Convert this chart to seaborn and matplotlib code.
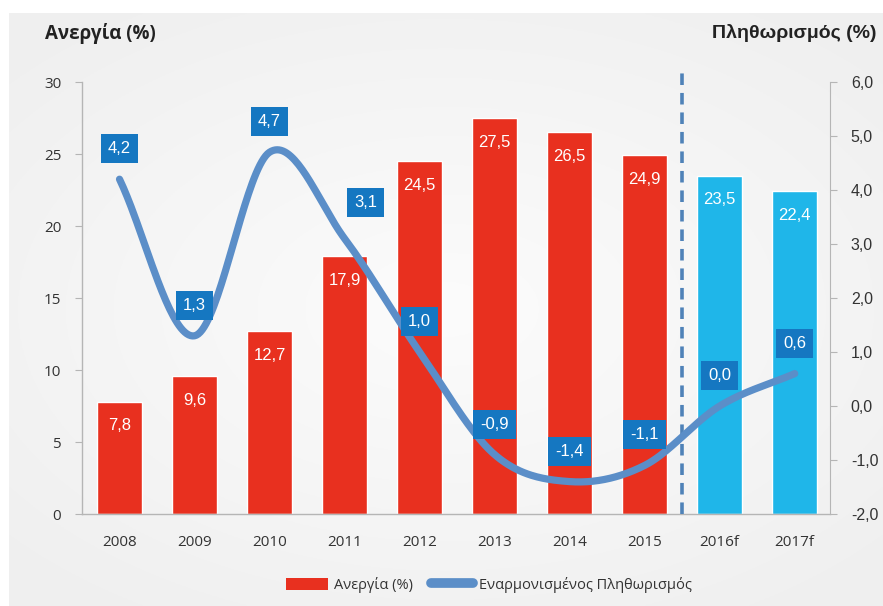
import numpy as np
import pandas as pd
import matplotlib
matplotlib.use("Agg")
import matplotlib.pyplot as plt
from matplotlib.patches import Patch
from matplotlib.lines import Line2D
import seaborn as sns

# ---- data -------------------------------------------------------------
years = ["2008", "2009", "2010", "2011", "2012", "2013", "2014", "2015", "2016f", "2017f"]
unemployment = [7.8, 9.6, 12.7, 17.9, 24.5, 27.5, 26.5, 24.9, 23.5, 22.4]
inflation = [4.2, 1.3, 4.7, 3.1, 1.0, -0.9, -1.4, -1.1, 0.0, 0.6]
forecast = [False] * 8 + [True] * 2

left_ticks = [0, 5, 10, 15, 20, 25, 30]
right_ticks = [-2, -1, 0, 1, 2, 3, 4, 5, 6]

RED = "#e8301f"
CYAN = "#1fb6e9"
LINE = "#5b8ec8"
BOX = "#1577c1"
AXIS = "#b5b5b5"
TEXT = "#333333"
ARIAL = ["Liberation Sans", "DejaVu Sans"]

sns.set_style("white")
plt.rcParams["font.family"] = ["Open Sans", "DejaVu Sans"]

W, H = 883, 606
fig = plt.figure(figsize=(W / 100, H / 100), dpi=100)

# soft grey backdrop with a lighter centre
bg = fig.add_axes([9 / W, 0, 1 - 9 / W, 1 - 13 / H])
gy, gx = np.mgrid[-1:1:300j, -1:1:400j]
r = np.sqrt((gx / 1.0) ** 2 + (gy / 0.9) ** 2)
shade = 0.988 - 0.05 * np.clip(r, 0, 1.4) / 1.4
bg.imshow(np.dstack([shade, shade, shade]), aspect="auto", extent=[0, 1, 0, 1])
bg.set_axis_off()
bg.set_zorder(0)

ax = fig.add_axes([82 / W, 1 - 514 / H, (830 - 82) / W, (514 - 82) / H])
ax.set_zorder(1)
ax.patch.set_visible(False)

df = pd.DataFrame({"year": years, "unemployment": unemployment, "forecast": forecast})
palette = {y: (CYAN if f else RED) for y, f in zip(years, forecast)}
sns.barplot(data=df, x="year", y="unemployment", hue="year", palette=palette,
            legend=False, width=0.6, saturation=1, ax=ax, zorder=2)

ax.set_xlim(-0.5, 9.47)
ax.set_ylim(0, 30)
ax.set_yticks(left_ticks)
ax.set_yticklabels([str(t) for t in left_ticks])
ax.set_xlabel("")
ax.set_ylabel("")

# bar value labels
for i, v in enumerate(unemployment):
    ax.annotate(f"{v:.1f}".replace(".", ","), (i, v), xytext=(0, -17.5),
                textcoords="offset points", ha="center", va="center",
                color="white", fontsize=12, family=ARIAL, zorder=3)

for side in ["top", "right"]:
    ax.spines[side].set_visible(False)
for side in ["left", "bottom"]:
    ax.spines[side].set_color(AXIS)
    ax.spines[side].set_linewidth(1)

ax.tick_params(axis="x", which="major", length=0, pad=15, labelsize=11, labelcolor=TEXT)
ax.set_xticks(np.arange(-0.5, 10, 1.0), minor=True)
ax.tick_params(axis="x", which="minor", length=5, color=AXIS, direction="out")
ax.tick_params(axis="y", length=5, color=AXIS, pad=10, labelsize=11, labelcolor=TEXT)

# divider between actual and forecast years
ax.plot([7.5, 7.5], [0, 31], ls=(0, (3.2, 2.2)), lw=2.6, color="#4f82b8",
        clip_on=False, zorder=4)

# ---- inflation on the secondary axis -----------------------------------
ax2 = ax.twinx()
ax2.set_zorder(2)
ax2.patch.set_visible(False)
ax2.set_ylim(-2, 6)
ax2.set_yticks(right_ticks)
ax2.set_yticklabels([f"{t:.1f}".replace(".", ",") for t in right_ticks], family=ARIAL)
for side in ["top", "left", "bottom"]:
    ax2.spines[side].set_visible(False)
ax2.spines["right"].set_color(AXIS)
ax2.tick_params(axis="y", length=5, color=AXIS, pad=10, labelsize=11.5, labelcolor=TEXT)

# smooth Catmull-Rom path through the yearly values
xi = np.arange(len(inflation), dtype=float)
yi = np.array(inflation, dtype=float)
px = np.concatenate([[2 * xi[0] - xi[1]], xi, [2 * xi[-1] - xi[-2]]])
py = np.concatenate([[2 * yi[0] - yi[1]], yi, [2 * yi[-1] - yi[-2]]])
cx, cy = [], []
t = np.linspace(0, 1, 40)
for k in range(1, len(px) - 2):
    for arr, out in ((px, cx), (py, cy)):
        p0, p1, p2, p3 = arr[k - 1], arr[k], arr[k + 1], arr[k + 2]
        out.extend(0.5 * ((2 * p1) + (-p0 + p2) * t
                          + (2 * p0 - 5 * p1 + 4 * p2 - p3) * t ** 2
                          + (-p0 + 3 * p1 - 3 * p2 + p3) * t ** 3))
curve = pd.DataFrame({"x": cx, "y": cy})
sns.lineplot(data=curve, x="x", y="y", sort=False, color=LINE, lw=5.2,
             solid_capstyle="round", ax=ax2, zorder=3)
ax2.set_xlabel("")
ax2.set_ylabel("")

offsets = {3: (15, 26)}
for i, v in enumerate(inflation):
    dx, dy = offsets.get(i, (0, 22))
    ax2.annotate(f"{v:.1f}".replace(".", ","), (i, v), xytext=(dx, dy),
                 textcoords="offset points", ha="center", va="center",
                 color="white", fontsize=12, family=ARIAL,
                 bbox=dict(boxstyle="square,pad=0.42", fc=BOX, ec="none"), zorder=5)

ax.set_xlim(-0.5, 9.47)

# ---- titles and legend --------------------------------------------------
fig.text(45 / W, 1 - 33 / H, "Ανεργία (%)", ha="left", va="center",
         fontsize=13.5, fontweight="bold", color="#222222")
fig.text(877 / W, 1 - 33 / H, "Πληθωρισμός (%)", ha="right", va="center",
         fontsize=14, fontweight="bold", color="#222222", family=ARIAL)

handles = [Patch(facecolor=RED, edgecolor="none"),
           Line2D([0], [0], color=LINE, lw=7, solid_capstyle="round")]
fig.legend(handles, ["Ανεργία (%)", "Εναρμονισμένος Πληθωρισμός"],
           loc="center", bbox_to_anchor=(489 / W, 1 - 585 / H), ncol=2,
           frameon=False, fontsize=10.5, handlelength=2.9, handleheight=0.9,
           handletextpad=0.4, columnspacing=1.2, labelcolor=TEXT)

fig.savefig("out.png", dpi=100)
